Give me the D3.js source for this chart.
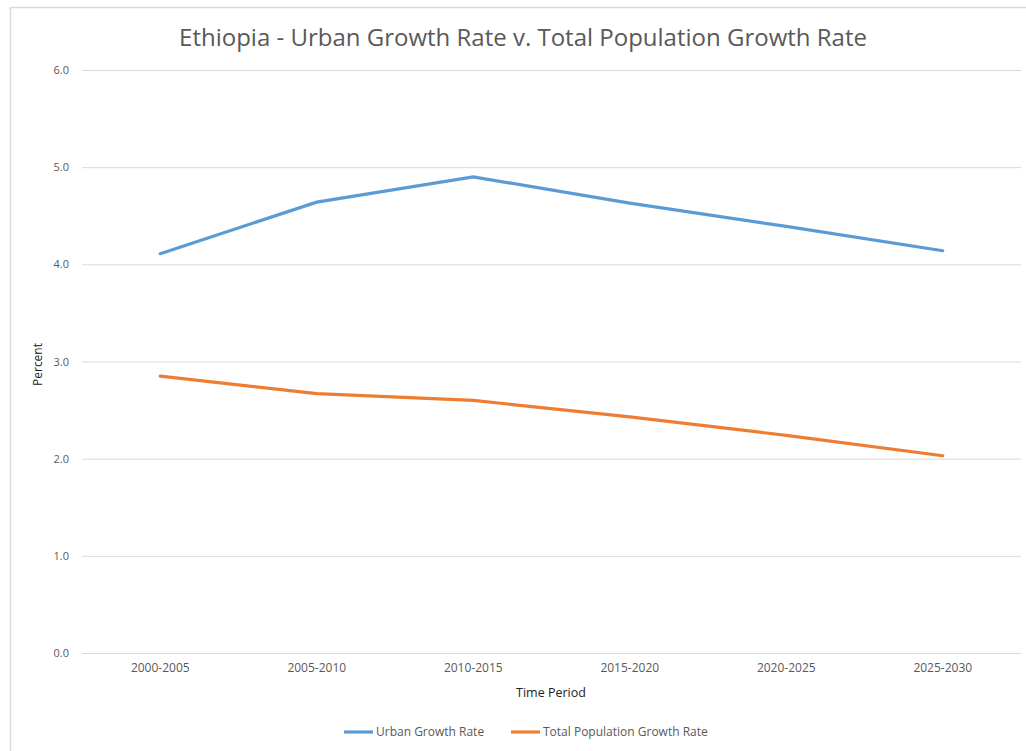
<!DOCTYPE html>
<html>
<head>
<meta charset="utf-8">
<script src="https://cdn.jsdelivr.net/npm/d3@7"></script>
<style>
  body { margin: 0; background: #fff; }
  text { font-family: "Open Sans", "Noto Sans", sans-serif; }
</style>
</head>
<body>
<div id="chart"></div>
<script>
// chart data
const periods = ["2000-2005", "2005-2010", "2010-2015", "2015-2020", "2020-2025", "2025-2030"];
const urbanRate = [4.11, 4.64, 4.90, 4.63, 4.39, 4.14];
const totalRate = [2.85, 2.67, 2.60, 2.43, 2.24, 2.03];
const yTicks = [0, 1, 2, 3, 4, 5, 6];
const seriesNames = ["Urban Growth Rate", "Total Population Growth Rate"];

const W = 1026, H = 751;
const m = { left: 82, right: 5, top: 70, bottom: 98 };

const svg = d3.select("#chart").append("svg")
  .attr("width", W).attr("height", H);

// frame of the chart area
svg.append("path")
  .attr("d", `M10.5,${H} L10.5,7.5 L${W},7.5`)
  .attr("fill", "none").attr("stroke", "#d9d9d9").attr("stroke-width", 1.5);

const x = d3.scaleBand().domain(periods).range([m.left, W - m.right]);
const y = d3.scaleLinear().domain([0, 6]).range([H - m.bottom, m.top]);

// gridlines
svg.append("g")
  .selectAll("line").data(yTicks).join("line")
  .attr("x1", m.left).attr("x2", W - m.right)
  .attr("y1", d => y(d) + 0.5).attr("y2", d => y(d) + 0.5)
  .attr("stroke", "#d9d9d9").attr("stroke-width", 1);

// y axis labels
const yAxis = d3.axisLeft(y).tickValues(yTicks).tickFormat(d3.format(".1f")).tickSize(0).tickPadding(13);
svg.append("g").attr("transform", `translate(${m.left},0)`).call(yAxis)
  .call(g => g.select(".domain").remove())
  .selectAll("text").attr("fill", "#595959").style("font-size", "11px")
  .style("font-family", "'Open Sans', 'Noto Sans', sans-serif");

// x axis labels
const xAxis = d3.axisBottom(x).tickSize(0).tickPadding(10);
svg.append("g").attr("transform", `translate(0,${H - m.bottom})`).call(xAxis)
  .call(g => g.select(".domain").remove())
  .selectAll("text").attr("fill", "#595959").style("font-size", "12px")
  .style("font-family", "'Open Sans', 'Noto Sans', sans-serif");

// lines
const line = d3.line()
  .x((d, i) => x(periods[i]) + x.bandwidth() / 2)
  .y(d => y(d));

svg.append("path").datum(urbanRate)
  .attr("d", line).attr("fill", "none")
  .attr("stroke", "#5b9bd5").attr("stroke-width", 3.2).attr("stroke-linecap", "round");

svg.append("path").datum(totalRate)
  .attr("d", line).attr("fill", "none")
  .attr("stroke", "#ed7d31").attr("stroke-width", 3.2).attr("stroke-linecap", "round");

// title
svg.append("text")
  .attr("x", 523).attr("y", 46)
  .attr("text-anchor", "middle")
  .attr("fill", "#595959")
  .style("font-size", "24px")
  .text("Ethiopia - Urban Growth Rate v. Total Population Growth Rate");

// axis titles
svg.append("text")
  .attr("transform", `translate(42,${(y(0) + y(6)) / 2 + 3}) rotate(-90)`)
  .attr("text-anchor", "middle")
  .attr("fill", "#222")
  .style("font-size", "12px")
  .text("Percent");

svg.append("text")
  .attr("x", 551).attr("y", 697)
  .attr("text-anchor", "middle")
  .attr("fill", "#222")
  .style("font-size", "12.5px")
  .text("Time Period");

// legend
const legend = [
  { name: seriesNames[0], color: "#5b9bd5", x: 344 },
  { name: seriesNames[1], color: "#ed7d31", x: 511 }
];
const lg = svg.append("g").selectAll("g").data(legend).join("g")
  .attr("transform", d => `translate(${d.x},732)`);
lg.append("line").attr("x1", 0).attr("x2", 29).attr("y1", 0).attr("y2", 0)
  .attr("stroke", d => d.color).attr("stroke-width", 3.2);
lg.append("text").attr("x", 32).attr("y", 4)
  .attr("fill", "#595959").style("font-size", "12px")
  .text(d => d.name);
</script>
</body>
</html>
